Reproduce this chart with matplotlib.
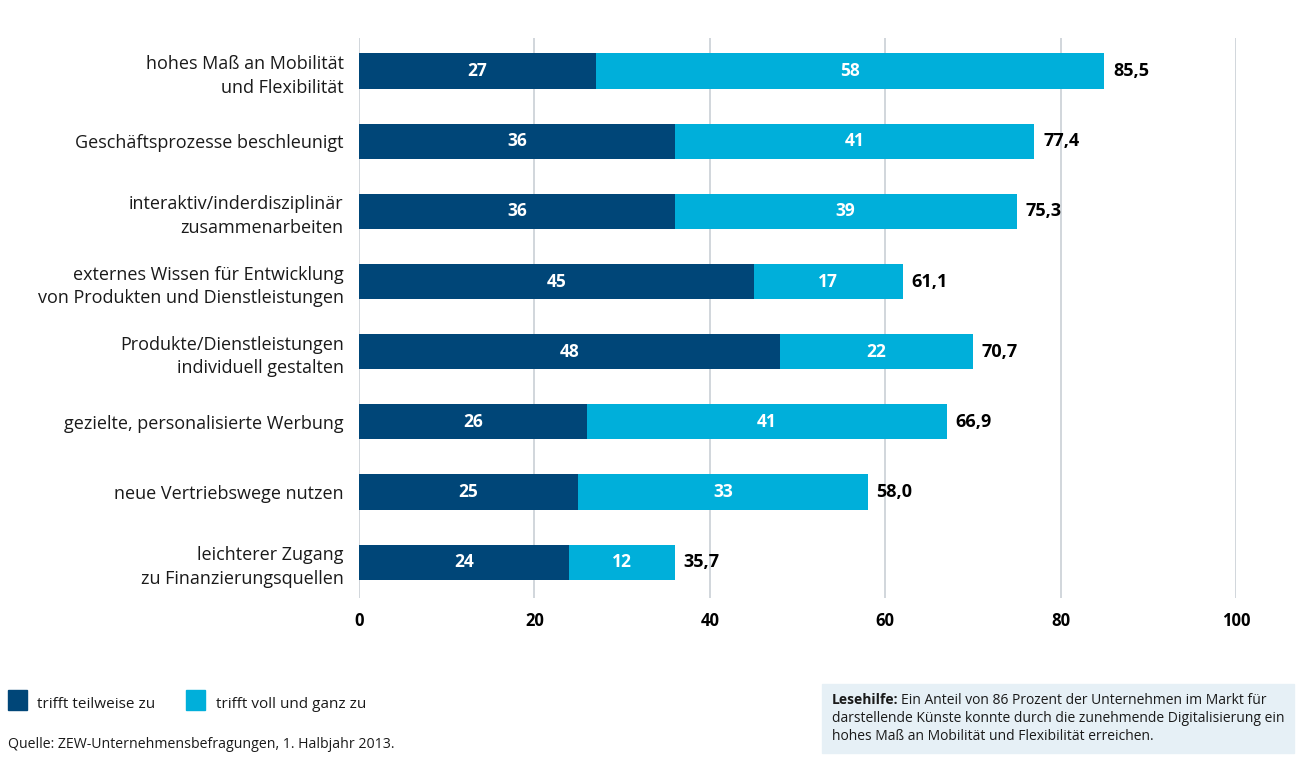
import matplotlib
matplotlib.use('Agg')
import matplotlib.pyplot as plt
from matplotlib.patches import Rectangle

plt.rcParams['font.family'] = ['Open Sans', 'DejaVu Sans']

categories = [
    'hohes Maß an Mobilität\nund Flexibilität',
    'Geschäftsprozesse beschleunigt',
    'interaktiv/inderdisziplinär\nzusammenarbeiten',
    'externes Wissen für Entwicklung\nvon Produkten und Dienstleistungen',
    'Produkte/Dienstleistungen\nindividuell gestalten',
    'gezielte, personalisierte Werbung',
    'neue Vertriebswege nutzen',
    'leichterer Zugang\nzu Finanzierungsquellen',
]
teilweise = [27, 36, 36, 45, 48, 26, 25, 24]
voll = [58, 41, 39, 17, 22, 41, 33, 12]
totals = ['85,5', '77,4', '75,3', '61,1', '70,7', '66,9', '58,0', '35,7']
xticks = [0, 20, 40, 60, 80, 100]

DARK = '#004678'
LIGHT = '#00afda'
GRID = '#c9cfd6'

fig = plt.figure(figsize=(12.96, 7.73), dpi=100)
ax = fig.add_axes([0.277, 0.2264, 0.6767, 0.7244])

y = list(range(len(categories)))
ax.barh(y, teilweise, height=0.5, color=DARK, zorder=3)
ax.barh(y, voll, left=teilweise, height=0.5, color=LIGHT, zorder=3)

for i in y:
    a, b = teilweise[i], voll[i]
    ax.text(a / 2, i, str(a), ha='center', va='center', color='white',
            fontsize=12.5, fontweight='bold', zorder=4)
    ax.text(a + b / 2, i, str(b), ha='center', va='center', color='white',
            fontsize=12.5, fontweight='bold', zorder=4)
    ax.text(a + b + 1.0, i, totals[i], ha='left', va='center', color='black',
            fontsize=13, fontweight='bold', zorder=4)

ax.set_xlim(0, 100)
ax.set_ylim(7.51, -0.47)
ax.set_yticks(y)
ax.set_yticklabels(categories, fontsize=13, color='#1a1a1a', linespacing=1.4)
ax.set_xticks(xticks)
ax.set_xticklabels([str(t) for t in xticks], fontsize=12, fontweight='bold')
ax.tick_params(axis='y', length=0, pad=11)
ax.tick_params(axis='x', length=0, pad=10)
ax.grid(axis='x', color=GRID, lw=1.2, zorder=0)
for s in ax.spines.values():
    s.set_visible(False)

# legend
W, H = 1296.0, 773.0
fig.patches.append(Rectangle((8 / W, 1 - 710 / H), 19 / W, 20 / H,
                             transform=fig.transFigure, color=DARK))
fig.text(37 / W, 1 - 704 / H, 'trifft teilweise zu', fontsize=11,
         va='center', color='#1a1a1a')
fig.patches.append(Rectangle((186 / W, 1 - 710 / H), 19 / W, 20 / H,
                             transform=fig.transFigure, color=LIGHT))
fig.text(216 / W, 1 - 704 / H, 'trifft voll und ganz zu', fontsize=11,
         va='center', color='#1a1a1a')
fig.text(8 / W, 1 - 745 / H, 'Quelle: ZEW-Unternehmensbefragungen, 1. Halbjahr 2013.',
         fontsize=10.2, va='center', color='#1a1a1a')

# reading aid box
fig.patches.append(Rectangle((822 / W, 1 - 753 / H), 472 / W, 69 / H,
                             transform=fig.transFigure, color='#e6f0f6'))
lines = [
    'Ein Anteil von 86 Prozent der Unternehmen im Markt für',
    'darstellende Künste konnte durch die zunehmende Digitalisierung ein',
    'hohes Maß an Mobilität und Flexibilität erreichen.',
]
fig.text(832 / W, 1 - 700 / H, 'Lesehilfe:', fontsize=10, fontweight='bold',
         va='center', color='#1a1a1a')
fig.text(901 / W, 1 - 700 / H, lines[0], fontsize=10, va='center', color='#1a1a1a')
fig.text(832 / W, 1 - 718 / H, lines[1], fontsize=10, va='center', color='#1a1a1a')
fig.text(832 / W, 1 - 737 / H, lines[2], fontsize=10, va='center', color='#1a1a1a')

fig.savefig('out.png', dpi=100)
